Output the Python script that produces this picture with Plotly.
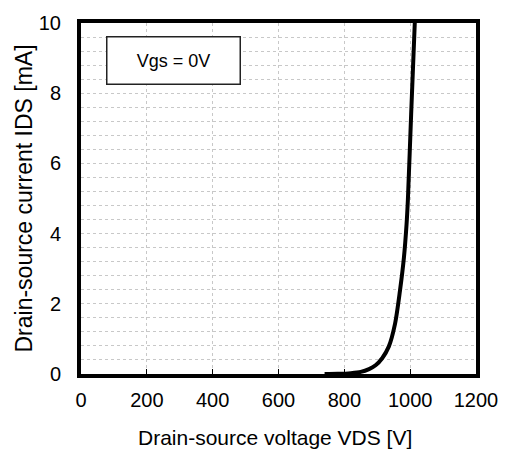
import plotly.graph_objects as go

# Data
vds = [740, 780, 820, 850, 875, 895, 915, 935, 954, 969, 981, 989, 993, 1003, 1014]
ids = [0.0, 0.005, 0.025, 0.06, 0.14, 0.25, 0.45, 0.78, 1.43, 2.37, 3.31, 4.26, 4.95, 7.4, 10.0]

x_ticks = [0, 200, 400, 600, 800, 1000, 1200]
y_ticks = [0, 2, 4, 6, 8, 10]

FONT = "Liberation Sans, Arial, sans-serif"

fig = go.Figure()
fig.add_trace(go.Scatter(
    x=vds, y=ids, mode="lines",
    line=dict(color="black", width=4, shape="spline", smoothing=0.8),
    showlegend=False, hoverinfo="skip",
))

grid = dict(showgrid=True, gridcolor="#c8c8c8", gridwidth=1, griddash="dot")

fig.update_xaxes(
    range=[0, 1200], tickvals=x_ticks, ticktext=[str(v) for v in x_ticks],
    showline=True, linecolor="black", linewidth=4, mirror=True,
    ticks="inside", ticklen=5, tickwidth=1, tickcolor="black",
    tickfont=dict(family=FONT, size=20, color="black"),
    ticklabelstandoff=5,
    zeroline=False, **grid,
)
# main y axis: labels pushed out with an invisible outside tick
fig.update_yaxes(
    range=[0, 10], tickvals=y_ticks, ticktext=[str(v) for v in y_ticks],
    showline=True, linecolor="black", linewidth=4, mirror=True,
    ticks="outside", ticklen=12, tickwidth=1, tickcolor="rgba(0,0,0,0)",
    tickfont=dict(family=FONT, size=20, color="black"),
    zeroline=False,
    minor=dict(dtick=0.4, tick0=0, showgrid=True, gridcolor="#c8c8c8",
               gridwidth=1, griddash="dot", ticks=""),
    **grid,
)
# overlay axis only for the small inside tick marks
fig.update_layout(yaxis2=dict(
    overlaying="y", side="left", range=[0, 10], tickvals=y_ticks,
    showticklabels=False, ticks="inside", ticklen=5, tickwidth=1,
    tickcolor="black", showgrid=False, zeroline=False, showline=False,
))

fig.add_annotation(
    text="Vgs = 0V", xref="paper", yref="paper", x=0.234, y=0.894,
    xanchor="center", yanchor="middle", showarrow=False,
    font=dict(family=FONT, size=18, color="black"),
    width=132, height=46, borderpad=0, bordercolor="#222222", borderwidth=1.5,
    bgcolor="white",
)
fig.add_annotation(
    text="Drain-source voltage VDS [V]", xref="paper", yref="paper",
    x=0.49, y=0, yshift=-63, xanchor="center", yanchor="middle",
    showarrow=False, font=dict(family=FONT, size=21, color="black"),
)
fig.add_annotation(
    text="Drain-source current IDS [mA]", xref="paper", yref="paper",
    x=0, xshift=-58, y=0.5, xanchor="center", yanchor="middle", textangle=-90,
    showarrow=False, font=dict(family=FONT, size=23, color="black"),
)

fig.update_layout(
    width=510, height=450,
    margin=dict(l=81, r=30, t=20, b=76),
    paper_bgcolor="white", plot_bgcolor="white",
    font=dict(family=FONT, color="black"),
)

fig.write_html("out.html")
